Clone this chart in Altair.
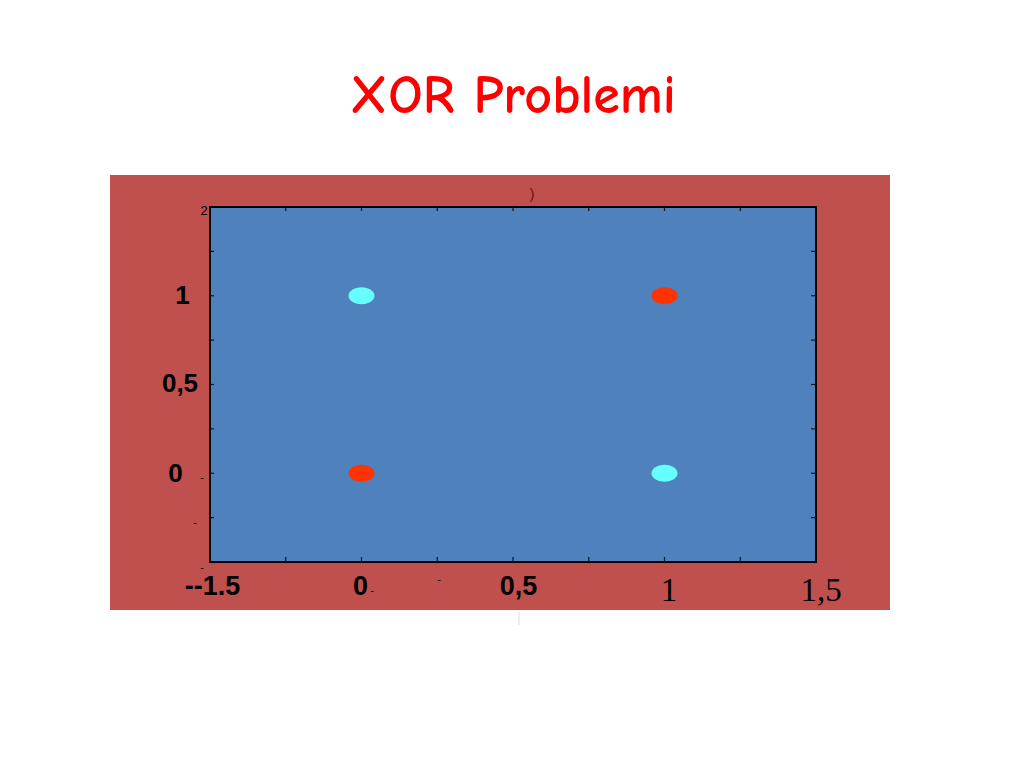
import altair as alt
import pandas as pd

# XOR points
xs = [0, 0, 1, 1]
ys = [0, 1, 0, 1]
outputs = ["0", "1", "1", "0"]

tick_vals = [-0.25, 0, 0.25, 0.5, 0.75, 1, 1.25]

W, H = 606, 355
xscale = alt.Scale(domain=[-0.5, 1.5], nice=False, zero=False)
yscale = alt.Scale(domain=[-0.5, 1.5], nice=False, zero=False)

pts = pd.DataFrame({"x": xs, "y": ys, "out": outputs})
ticks = pd.DataFrame({"v": tick_vals})

RED_BG = "#C0504D"
BLUE = "#4F81BD"
ELLIPSE = ("M -1 0 C -1 -0.359 -0.552 -0.65 0 -0.65 C 0.552 -0.65 1 -0.359 1 0 "
           "C 1 0.359 0.552 0.65 0 0.65 C -0.552 0.65 -1 0.359 -1 0 Z")

base = alt.Chart(pts)

red_bg = base.mark_rect(color=RED_BG).encode(
    x=alt.value(-100), x2=alt.value(680), y=alt.value(-32), y2=alt.value(403)
).transform_filter("datum.x == 0 && datum.y == 0")

blue = base.mark_rect(color=BLUE, stroke="black", strokeWidth=2).encode(
    x=alt.datum(-0.5, scale=xscale, axis=None),
    x2=alt.datum(1.5),
    y=alt.datum(-0.5, scale=yscale, axis=None),
    y2=alt.datum(1.5),
).transform_filter("datum.x == 0 && datum.y == 0")

tb = alt.Chart(ticks)
tick_col = "#0d1522"
top_t = tb.mark_rule(color=tick_col, strokeWidth=1.2).encode(
    x=alt.X("v:Q", scale=xscale, axis=None), y=alt.value(0), y2=alt.value(4))
bot_t = tb.mark_rule(color=tick_col, strokeWidth=1.2).encode(
    x=alt.X("v:Q", scale=xscale, axis=None), y=alt.value(H), y2=alt.value(H - 5))
left_t = tb.mark_rule(color=tick_col, strokeWidth=1.2).encode(
    y=alt.Y("v:Q", scale=yscale, axis=None), x=alt.value(0), x2=alt.value(4))
right_t = tb.mark_rule(color=tick_col, strokeWidth=1.2).encode(
    y=alt.Y("v:Q", scale=yscale, axis=None), x=alt.value(W), x2=alt.value(W - 5))

points = base.mark_point(shape=ELLIPSE, size=676, filled=True, opacity=1).encode(
    x=alt.X("x:Q", scale=xscale, axis=None),
    y=alt.Y("y:Q", scale=yscale, axis=None),
    color=alt.Color("out:N", scale=alt.Scale(domain=["0", "1"], range=["#FF3300", "#66FFFF"]), legend=None),
)

one = base.transform_filter("datum.x == 0 && datum.y == 0")

def txt(text, x, y, font, size, weight="normal", color="black", dx=0, dy=0, align="center", baseline="alphabetic"):
    return one.mark_text(text=text, font=font, fontSize=size, fontWeight=weight, color=color,
                         dx=dx, dy=dy, align=align, baseline=baseline).encode(x=x, y=y)

SANS = "Liberation Sans"
SERIF = "Liberation Serif"

layers = [red_bg, blue, top_t, bot_t, left_t, right_t, points]

# x tick labels (bold sans)
x_bold = ["--1.5", "0", "0,5"]
x_bold_v = [-0.5, 0, 0.5]
x_bold_dx = [2.5, -1, 5.5]
for t, v, d in zip(x_bold, x_bold_v, x_bold_dx):
    layers.append(txt(t, alt.datum(v, scale=xscale), alt.value(388), SANS, 27, "bold", dx=d))
# x tick labels (serif)
x_serif = ["1", "1,5"]
x_serif_v = [1, 1.5]
x_serif_dx = [4.5, 5]
for t, v, d in zip(x_serif, x_serif_v, x_serif_dx):
    layers.append(txt(t, alt.datum(v, scale=xscale), alt.value(394), SERIF, 33, dx=d))

# y tick labels
y_bold = ["1", "0,5", "0"]
y_bold_v = [1, 0.5, 0]
y_bold_x = [-27.5, -30, -34.5]
y_bold_dy = [8, 7.5, 9]
for t, v, px, d in zip(y_bold, y_bold_v, y_bold_x, y_bold_dy):
    layers.append(txt(t, alt.value(px), alt.datum(v, scale=yscale), SANS, 26, "bold", dy=d))
layers.append(txt("2", alt.value(-6), alt.datum(1.5, scale=yscale), SANS, 13, dy=8))

# stray small dashes
dash_xy = [(162, 384), (229, 373), (-8, 271), (-15, 316), (-8, 361)]
for px, py in dash_xy:
    layers.append(txt("-", alt.value(px), alt.value(py), SANS, 11, baseline="middle"))

layers.append(txt(")", alt.value(322), alt.value(-8), SANS, 15, color="#6b1515"))

artifact = one.mark_rule(color="#dcdcdc", strokeWidth=1).encode(
    x=alt.value(309), y=alt.value(405), y2=alt.value(418))
layers.append(artifact)

chart = alt.layer(*layers).properties(
    width=W, height=H,
    padding={"left": 202, "top": 199, "right": 200, "bottom": 198},
    autosize="none",
    title=alt.TitleParams("XOR Problemi", font="Comic Sans MS, Comic Neue, Lato", fontSize=54,
                          fontWeight="bold", color="#FF0000", anchor="middle",
                          baseline="alphabetic", offset=8),
).configure_view(stroke=None).configure(background="white")

chart.save("out.html", embed_options={"renderer": "svg", "actions": False})
